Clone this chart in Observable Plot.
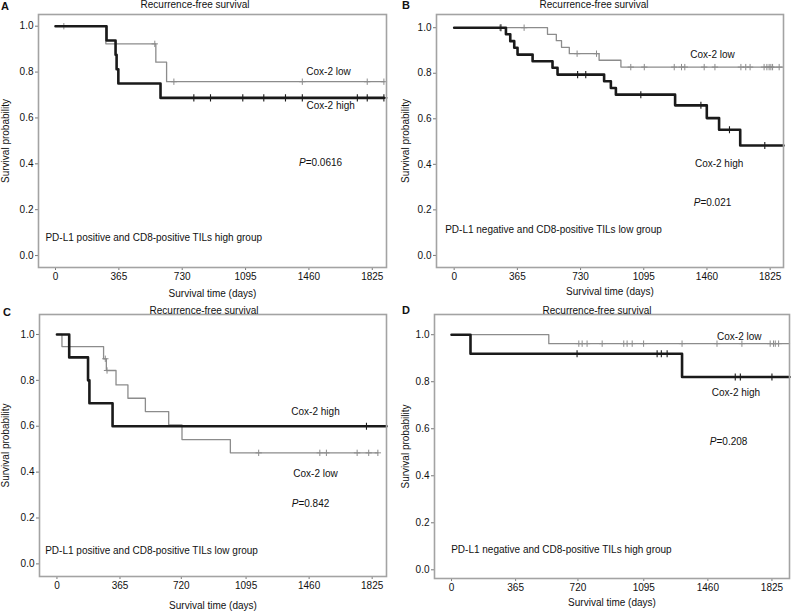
<!DOCTYPE html>
<html><head><meta charset="utf-8">
<script src="https://cdn.jsdelivr.net/npm/d3@7"></script>
<script src="https://cdn.jsdelivr.net/npm/@observablehq/plot@0.6"></script>
<style>
body{margin:0;background:#fff;font-family:"Liberation Sans",Arial,sans-serif;}
#wrap{position:relative;width:798px;height:612px;overflow:hidden;background:#fff;}
.panel{position:absolute;}
.letter{position:absolute;font-weight:bold;font-size:11px;line-height:11px;color:#111;}
.title{position:absolute;font-size:10px;line-height:10px;color:#111;transform:translate(-50%,-50%);white-space:nowrap;}
</style></head><body><div id="wrap"></div>
<script>
// ---------- data ----------
const panelLetters = ["A", "B", "C", "D"];
const panelTitle = "Recurrence-free survival";
const yTickValues = [0, 0.2, 0.4, 0.6, 0.8, 1.0];
const xTicksAB = [0, 365, 730, 1095, 1460, 1825];
const xTicksCD = [0, 365, 720, 1095, 1460, 1825];
const groupNames = [
  "PD-L1 positive and CD8-positive TILs high group",
  "PD-L1 negative and CD8-positive TILs low group",
  "PD-L1 positive and CD8-positive TILs low group",
  "PD-L1 negative and CD8-positive TILs high group"
];
const pValues = ["0.0616", "0.021", "0.842", "0.208"];

// Panel A
const A_highTimes = [294, 346, 352, 362, 605];
const A_highSurv = [0.9375, 0.875, 0.8125, 0.75, 0.6875];
const A_highCensor = [797, 893, 1079, 1200, 1325, 1422, 1739, 1796, 1892];
const A_highEnd = 1892;
const A_lowTimes = [290, 578, 640];
const A_lowSurv = [0.923, 0.843, 0.758];
const A_lowCensor = [48, 572, 682, 1422, 1796, 1892];
const A_lowEnd = 1892;

// Panel B
const B_highTimes = [299, 324, 347, 366, 453, 568, 597, 866, 905, 934, 1276, 1459, 1530, 1652];
const B_highSurv = [0.971, 0.941, 0.912, 0.882, 0.853, 0.824, 0.794, 0.765, 0.735, 0.706, 0.659, 0.603, 0.552, 0.483];
const B_highCensor = [270, 713, 760, 1078, 1425, 1590, 1794];
const B_highEnd = 1902;
const B_lowTimes = [539, 590, 620, 665, 837, 963];
const B_lowSurv = [0.971, 0.943, 0.914, 0.886, 0.857, 0.827];
const B_lowCensor = [264, 404, 710, 822, 1020, 1098, 1271, 1313, 1332, 1444, 1506, 1656, 1684, 1709, 1790, 1806, 1819, 1829, 1839, 1877];
const B_lowEnd = 1902;

// Panel C
const C_highTimes = [71, 180, 188, 322];
const C_highSurv = [0.9, 0.8, 0.7, 0.6];
const C_highCensor = [1792];
const C_highEnd = 1908;
const C_lowTimes = [29, 270, 286, 342, 411, 512, 647, 724, 1004];
const C_lowSurv = [0.947, 0.894, 0.843, 0.78, 0.722, 0.664, 0.606, 0.542, 0.484];
const C_lowCensor = [280, 290, 1168, 1522, 1560, 1738, 1805, 1858];
const C_lowEnd = 1858;

// Panel D
const D_highTimes = [108, 1313];
const D_highSurv = [0.919, 0.82];
const D_highCensor = [715, 1171, 1195, 1228, 1616, 1645, 1825];
const D_highEnd = 1925;
const D_lowTimes = [554];
const D_lowSurv = [0.962];
const D_lowCensor = [725, 744, 772, 858, 981, 1000, 1029, 1094, 1313, 1512, 1654, 1815, 1834, 1844, 1863];
const D_lowEnd = 1925;

// ---------- helpers ----------
function stepPoints(times, surv, end) {
  const pts = [{t: 0, s: 1}];
  times.forEach((t, i) => pts.push({t, s: surv[i]}));
  pts.push({t: end, s: surv[surv.length - 1]});
  return pts;
}
function survAt(times, surv, t) {
  let s = 1;
  times.forEach((ti, i) => { if (ti <= t) s = surv[i]; });
  return s;
}
function censorPoints(times, surv, cens) {
  return cens.map(t => ({t, s: survAt(times, surv, t)}));
}

// ---------- layout ----------
const panels = [
  {left: 0, top: 0, width: 400, height: 300, m: [14, 14, 33, 38], xDomain: [-98, 1907], yDomain: [-0.052, 1.051],
   xTicks: xTicksAB, xLabelOffset: 29,
   high: [A_highTimes, A_highSurv, A_highCensor, A_highEnd], low: [A_lowTimes, A_lowSurv, A_lowCensor, A_lowEnd],
   lowLab: [1573, 0.803], highLab: [1585, 0.655], pLab: [1527, 0.406], groupLab: [-58, 0.079],
   letterPos: [1, 1], titlePos: [195, 5]},
  {left: 400, top: 0, width: 398, height: 300, m: [14, 15, 33, 36], xDomain: [-102, 1902], yDomain: [-0.053, 1.058],
   xTicks: xTicksAB, xLabelOffset: 27,
   high: [B_highTimes, B_highSurv, B_highCensor, B_highEnd], low: [B_lowTimes, B_lowSurv, B_lowCensor, B_lowEnd],
   lowLab: [1492, 0.881], highLab: [1530, 0.403], pLab: [1492, 0.231], groupLab: [-52, 0.113],
   letterPos: [402, 0], titlePos: [594, 5]},
  {left: 0, top: 300, width: 400, height: 312, m: [14, 14, 36, 39], xDomain: [-101, 1908], yDomain: [-0.055, 1.087],
   xTicks: xTicksCD, xLabelOffset: 32,
   high: [C_highTimes, C_highSurv, C_highCensor, C_highEnd], low: [C_lowTimes, C_lowSurv, C_lowCensor, C_lowEnd],
   lowLab: [1497, 0.392], highLab: [1497, 0.664], pLab: [1468, 0.262], groupLab: [-68, 0.055],
   letterPos: [3, 307], titlePos: [204, 311]},
  {left: 400, top: 300, width: 398, height: 312, m: [14, 9, 34, 34], xDomain: [-97, 1925], yDomain: [-0.037, 1.086],
   xTicks: xTicksCD, xLabelOffset: 27,
   high: [D_highTimes, D_highSurv, D_highCensor, D_highEnd], low: [D_lowTimes, D_lowSurv, D_lowCensor, D_lowEnd],
   lowLab: [1639, 0.99], highLab: [1620, 0.751], pLab: [1578, 0.543], groupLab: [-2, 0.085],
   letterPos: [402, 305], titlePos: [597, 311]}
];

const LOW_COLOR = "#8c8c8c";
const HIGH_COLOR = "#1a1a1a";
const wrap = document.getElementById("wrap");

panels.forEach((p, i) => {
  const [ht, hs, hc, he] = p.high;
  const [lt, ls, lc, le] = p.low;
  const chart = Plot.plot({
    width: p.width,
    height: p.height,
    marginTop: p.m[0], marginRight: p.m[1], marginBottom: p.m[2], marginLeft: p.m[3],
    style: {fontFamily: "'Liberation Sans', Arial, sans-serif", fontSize: "10px", color: "#111", background: "transparent", overflow: "visible"},
    x: {domain: p.xDomain},
    y: {domain: p.yDomain},
    marks: [
      Plot.axisY({ticks: yTickValues, tickFormat: d3.format(".1f"), tickSize: 3, tickPadding: 2, stroke: "#777",
        label: "Survival probability", labelAnchor: "center", labelArrow: "none", labelOffset: p.m[3] - 1}),
      Plot.axisX({ticks: p.xTicks, tickFormat: d => String(d), tickSize: 3, tickPadding: 2, stroke: "#777",
        label: "Survival time (days)", labelAnchor: "center", labelArrow: "none", labelOffset: p.xLabelOffset}),
      Plot.line(stepPoints(lt, ls, le), {x: "t", y: "s", curve: "step-after", stroke: LOW_COLOR, strokeWidth: 1.3}),
      Plot.dot(censorPoints(lt, ls, lc), {x: "t", y: "s", symbol: "plus", r: 2.2, stroke: LOW_COLOR, strokeWidth: 1}),
      Plot.line(stepPoints(ht, hs, he), {x: "t", y: "s", curve: "step-after", stroke: HIGH_COLOR, strokeWidth: 2.6}),
      Plot.dot(censorPoints(ht, hs, hc), {x: "t", y: "s", symbol: "plus", r: 2.4, stroke: HIGH_COLOR, strokeWidth: 1.1}),
      Plot.frame({stroke: "#a3a3a3", strokeWidth: 1.6}),
      Plot.text(["Cox-2 low"], {x: () => p.lowLab[0], y: () => p.lowLab[1], fill: "#111"}),
      Plot.text(["Cox-2 high"], {x: () => p.highLab[0], y: () => p.highLab[1], fill: "#111"}),
      Plot.text(["P=" + pValues[i]], {x: () => p.pLab[0], y: () => p.pLab[1], fill: "#111"}),
      Plot.text([groupNames[i]], {x: () => p.groupLab[0], y: () => p.groupLab[1], textAnchor: "start", fill: "#111"})
    ]
  });
  // italic P in the p-value label
  d3.select(chart).selectAll("text").each(function() {
    const t = this.textContent;
    if (t.startsWith("P=")) {
      const el = d3.select(this);
      el.text(null);
      el.append("tspan").attr("font-style", "italic").text("P");
      el.append("tspan").text(t.slice(1));
    }
  });
  const div = document.createElement("div");
  div.className = "panel";
  div.style.left = p.left + "px";
  div.style.top = p.top + "px";
  div.appendChild(chart);
  wrap.appendChild(div);

  const letter = document.createElement("div");
  letter.className = "letter";
  letter.style.left = p.letterPos[0] + "px";
  letter.style.top = p.letterPos[1] + "px";
  letter.textContent = panelLetters[i];
  wrap.appendChild(letter);

  const title = document.createElement("div");
  title.className = "title";
  title.style.left = p.titlePos[0] + "px";
  title.style.top = p.titlePos[1] + "px";
  title.textContent = panelTitle;
  wrap.appendChild(title);
});
</script></body></html>
